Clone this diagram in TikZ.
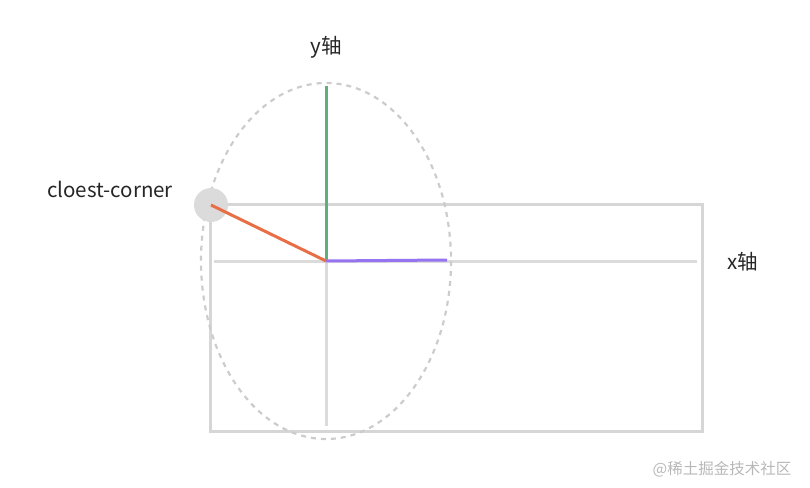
\documentclass[tikz,border=0pt]{standalone}
\usepackage{fontspec}
\setmainfont{Noto Sans CJK SC}
\begin{document}
\begin{tikzpicture}[x=1pt,y=-1pt,
  frame/.style={draw=black!16,line width=3pt},
  axisline/.style={draw=black!14,line width=3pt},
  lbl/.style={font=\fontsize{20.5}{24}\selectfont,text=black!85,inner sep=0pt}]
\useasboundingbox (0,0) rectangle (810,487);
\coordinate (o) at (326,261);
\coordinate (xend) at (447,260);
\coordinate (yend) at (326,86);
\coordinate (c) at (211,205);
\draw[frame] (210,204) rectangle (702,431);
\draw[axisline] (214,261) -- (697,261);
\draw[axisline] (326,261) -- (326,426);
\draw[draw=black!20,line width=2.2pt,dash pattern=on 5pt off 5pt] (o) ellipse [x radius=125, y radius=178];
\fill[black!14] (c) circle (17);
\draw[color={rgb,255:red,96;green,176;blue,124},line width=3pt] (o) -- (yend);
\draw[color={rgb,255:red,150;green,115;blue,240},line width=3pt] (o) -- (xend);
\draw[color={rgb,255:red,232;green,110;blue,70},line width=3pt] (o) -- (c);
\node[lbl] (ylab) at (326,47) {y轴};
\node[lbl] (xlab) at (743,262) {x轴};
\node[lbl] (clab) at (110,189) {cloest-corner};
\node[font=\fontsize{15.5}{18}\selectfont,text=black!28,inner sep=0pt] (wm) at (722,469) {@稀土掘金技术社区};
\end{tikzpicture}
\end{document}
